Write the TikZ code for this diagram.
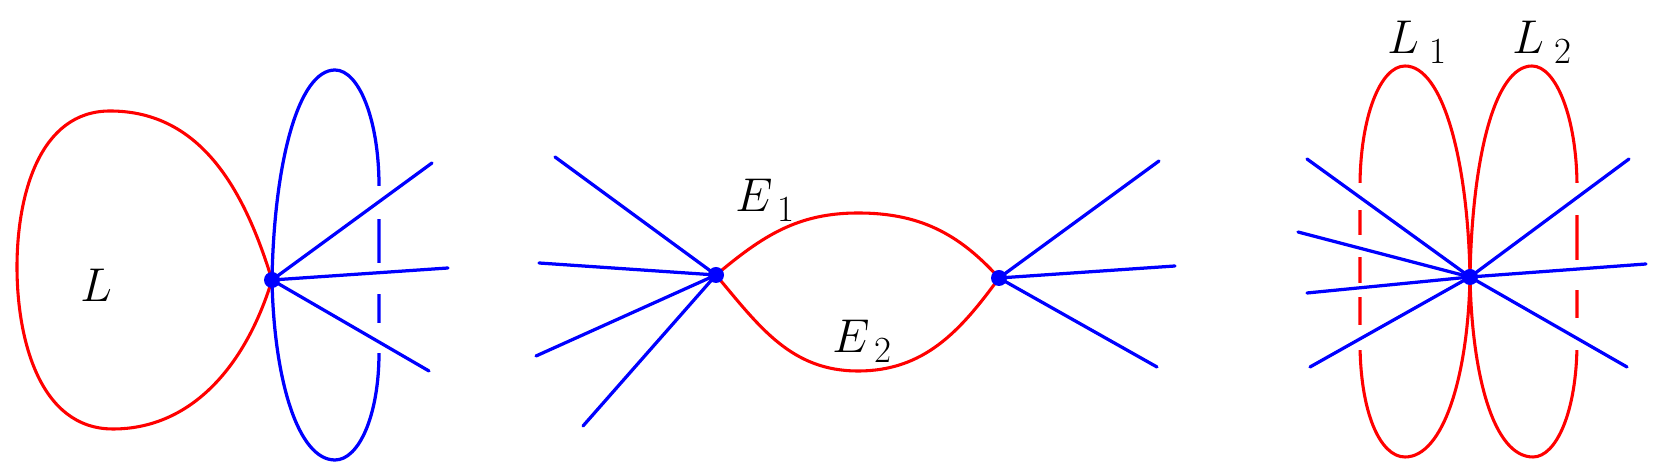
\documentclass[tikz,border=0pt]{standalone}
\usepackage{fix-cm}
\newcommand\mylbl[3]{$#1$\kern#3\raisebox{-5.5pt}{\fontsize{21}{22}\selectfont #2}}
\begin{document}
\begin{tikzpicture}[x=0.02cm,y=0.02cm]
\tikzset{
  bl/.style={blue, line width=1.85pt, line cap=round},
  rd/.style={red, line width=1.75pt},
  vtx/.style={circle, fill=blue, inner sep=0pt, minimum size=0.32cm},
  gapbox/.style={fill=white, draw=none},
  lab/.style={anchor=base west, inner sep=0pt, font=\fontsize{27}{30}\selectfont}
}
\useasboundingbox (0,0) rectangle (1661,472);

% ---------------- Panel 1 ----------------
\coordinate (p1) at (272,192);
\draw[rd] (p1) .. controls (245,280) and (202,361) .. (110,361)
          .. controls (39,361) and (17,276) .. (17,205)
          .. controls (17,134) and (39,43) .. (113,43)
          .. controls (190,43) and (245,104) .. (p1);
\draw[bl] (p1) .. controls (274,308) and (298,402) .. (335,402)
          .. controls (359,402) and (379,352) .. (379,286)
          .. controls (379,230) and (379,170) .. (379,119)
          .. controls (379,57) and (359,12) .. (335,12)
          .. controls (298,12) and (274,92) .. (p1);
\fill[gapbox] (372,253) rectangle (386,286);
\fill[gapbox] (372,178) rectangle (386,209);
\fill[gapbox] (372,119) rectangle (386,149);
\coordinate (a1) at (432,309);
\coordinate (a2) at (448,204);
\coordinate (a3) at (429,101);
\draw[bl] (p1) -- (a1);
\draw[bl] (p1) -- (a2);
\draw[bl] (p1) -- (a3);
\node[vtx] (v1) at (p1) {};
\node[lab] (lL) at (80,170) {$L$};

% ---------------- Panel 2 ----------------
\coordinate (p2) at (716,197);
\coordinate (p3) at (999,194);
\coordinate (top2) at (858,259);
\coordinate (bot2) at (858,101);
\draw[rd] (p2) to[out=40,in=180] (top2) to[out=0,in=132] (p3);
\draw[rd] (p2) to[out=-50,in=180] (bot2) to[out=0,in=-126] (p3);
\coordinate (b1) at (555,315);
\coordinate (b2) at (539,209);
\coordinate (b3) at (536,116);
\coordinate (b4) at (583,46);
\coordinate (c1) at (1159,311);
\coordinate (c2) at (1175,206);
\coordinate (c3) at (1157,105);
\foreach \t in {b1,b2,b3,b4} \draw[bl] (p2) -- (\t);
\foreach \t in {c1,c2,c3} \draw[bl] (p3) -- (\t);
\node[vtx] (v2) at (p2) {};
\node[vtx] (v3) at (p3) {};
\node[lab] (lE1) at (735,260) {\mylbl{E}{1}{3pt}};
\node[lab] (lE2) at (832,119) {\mylbl{E}{2}{3pt}};

% ---------------- Panel 3 ----------------
\coordinate (p4) at (1470,195);
\draw[rd] (p4) .. controls (1468,311) and (1443,406) .. (1405,406)
          .. controls (1380,406) and (1360,354) .. (1360,285)
          .. controls (1360,230) and (1360,180) .. (1360,130)
          .. controls (1360,60) and (1380,15) .. (1405,15)
          .. controls (1443,15) and (1468,95) .. (p4);
\draw[rd] (p4) .. controls (1472,311) and (1494,406) .. (1532,406)
          .. controls (1556,406) and (1577,354) .. (1577,285)
          .. controls (1577,230) and (1577,180) .. (1577,130)
          .. controls (1577,60) and (1556,15) .. (1533,15)
          .. controls (1494,15) and (1472,95) .. (p4);
\fill[gapbox] (1352,262) rectangle (1369,289);
\fill[gapbox] (1352,215) rectangle (1369,237);
\fill[gapbox] (1352,175) rectangle (1369,189);
\fill[gapbox] (1352,122) rectangle (1369,147);
\fill[gapbox] (1569,257) rectangle (1585,289);
\fill[gapbox] (1569,182) rectangle (1585,212);
\fill[gapbox] (1569,122) rectangle (1585,154);
\coordinate (d1) at (1307,313);
\coordinate (d2) at (1298,240);
\coordinate (d3) at (1307,179);
\coordinate (d4) at (1310,105);
\coordinate (d5) at (1629,313);
\coordinate (d6) at (1646,208);
\coordinate (d7) at (1627,105);
\foreach \t in {d1,d2,d3,d4,d5,d6,d7} \draw[bl] (p4) -- (\t);
\node[vtx] (v4) at (p4) {};
\node[lab] (lL1) at (1387,418) {\mylbl{L}{1}{6pt}};
\node[lab] (lL2) at (1512,418) {\mylbl{L}{2}{6pt}};
\end{tikzpicture}
\end{document}
